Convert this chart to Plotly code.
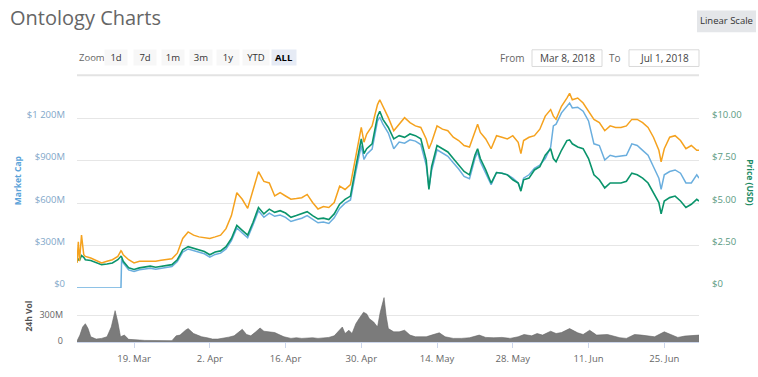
import plotly.graph_objects as go

# ---------------- data ----------------
price_dates = [
    "2018-03-08 11:00", "2018-03-08 17:00", "2018-03-08 22:00", "2018-03-09 07:00", "2018-03-09 17:00",
    "2018-03-10", "2018-03-11", "2018-03-12", "2018-03-13", "2018-03-14", "2018-03-15", "2018-03-16",
    "2018-03-16 14:00", "2018-03-16 17:00", "2018-03-17", "2018-03-18", "2018-03-19", "2018-03-20",
    "2018-03-21", "2018-03-22", "2018-03-23", "2018-03-24", "2018-03-25", "2018-03-26", "2018-03-27",
    "2018-03-28", "2018-03-29", "2018-03-30", "2018-03-31", "2018-04-01", "2018-04-02", "2018-04-03",
    "2018-04-04", "2018-04-05", "2018-04-06", "2018-04-07", "2018-04-08", "2018-04-09", "2018-04-10",
    "2018-04-11", "2018-04-12", "2018-04-13", "2018-04-14", "2018-04-15", "2018-04-16", "2018-04-17",
    "2018-04-18", "2018-04-19", "2018-04-20", "2018-04-21", "2018-04-22", "2018-04-23", "2018-04-24",
    "2018-04-25", "2018-04-26", "2018-04-27", "2018-04-28", "2018-04-29", "2018-04-30", "2018-04-30 12:00",
    "2018-05-01", "2018-05-02", "2018-05-03", "2018-05-03 10:00", "2018-05-04", "2018-05-05", "2018-05-06",
    "2018-05-07", "2018-05-08", "2018-05-09", "2018-05-10", "2018-05-11", "2018-05-12", "2018-05-12 12:00",
    "2018-05-13", "2018-05-14", "2018-05-15", "2018-05-16", "2018-05-17", "2018-05-18", "2018-05-19",
    "2018-05-20", "2018-05-21", "2018-05-21 12:00", "2018-05-22", "2018-05-23", "2018-05-24", "2018-05-25",
    "2018-05-26", "2018-05-27", "2018-05-28", "2018-05-29", "2018-05-29 12:00", "2018-05-30", "2018-05-31",
    "2018-06-01", "2018-06-02", "2018-06-03", "2018-06-04", "2018-06-04 12:00", "2018-06-05", "2018-06-06",
    "2018-06-07", "2018-06-07 12:00", "2018-06-08", "2018-06-09", "2018-06-10", "2018-06-11", "2018-06-12",
    "2018-06-13", "2018-06-14", "2018-06-15", "2018-06-16", "2018-06-17", "2018-06-18", "2018-06-19",
    "2018-06-20", "2018-06-21", "2018-06-22", "2018-06-23", "2018-06-24", "2018-06-24 10:00", "2018-06-25",
    "2018-06-26", "2018-06-27", "2018-06-28", "2018-06-29", "2018-06-30", "2018-07-01", "2018-07-01 10:00",
]

# Market cap, millions of USD
market_cap_m = [
    0, 0, 0, 0, 0, 0, 0, 0, 0, 0, 0, 0, 0, 208, 178, 129, 118, 129, 134, 141, 134, 141, 146, 152, 187,
    254, 277, 266, 254, 243, 219, 238, 247, 277, 335, 425, 390, 356, 448, 547, 501, 531, 508, 517, 501,
    471, 483, 494, 513, 485, 462, 467, 457, 497, 564, 601, 624, 825, 1009, 910, 947, 984, 1183, 1210,
    1160, 1097, 986, 1033, 1026, 1049, 1040, 1016, 871, 709, 832, 979, 956, 933, 887, 843, 790, 774,
    917, 963, 894, 818, 732, 818, 813, 802, 778, 744, 698, 778, 802, 848, 871, 917, 998, 1148, 1160,
    1240, 1287, 1310, 1275, 1280, 1252, 1183, 1021, 1009, 906, 940, 929, 933, 940, 1021, 1009, 975,
    940, 859, 778, 698, 802, 825, 836, 813, 744, 744, 802, 778,
]

# Price in USD
price_usd = [
    1.58, 1.73, 1.62, 1.92, 1.81, 1.67, 1.62, 1.48, 1.38, 1.42, 1.48, 1.67, 1.87, 1.83, 1.58, 1.19,
    1.10, 1.19, 1.23, 1.29, 1.23, 1.29, 1.33, 1.38, 1.67, 2.25, 2.44, 2.35, 2.25, 2.15, 1.96, 2.12,
    2.19, 2.44, 2.92, 3.69, 3.40, 3.12, 3.88, 4.75, 4.37, 4.65, 4.46, 4.56, 4.42, 4.17, 4.27, 4.37,
    4.50, 4.27, 4.08, 4.12, 4.04, 4.37, 4.94, 5.23, 5.42, 7.15, 8.79, 7.92, 8.21, 8.50, 10.13, 10.42,
    9.94, 9.46, 8.79, 8.98, 8.88, 9.08, 8.98, 8.79, 7.54, 5.81, 7.15, 8.40, 8.21, 8.02, 7.63, 7.25,
    6.87, 6.67, 7.83, 8.21, 7.63, 6.96, 6.19, 6.81, 6.77, 6.67, 6.38, 6.19, 5.71, 6.38, 6.48, 6.96,
    7.15, 7.83, 8.21, 7.63, 7.44, 8.12, 8.69, 8.73, 8.50, 8.31, 8.21, 7.63, 6.67, 6.38, 5.90, 6.19,
    6.19, 6.19, 6.29, 6.77, 6.67, 6.48, 6.19, 5.62, 5.04, 4.37, 5.13, 5.33, 5.42, 5.13, 4.75, 4.94,
    5.23, 5.13,
]

# Price in BTC (hidden axis)
price_btc = [
    0.000146, 0.000270, 0.000156, 0.000308, 0.000194, 0.000184, 0.000175, 0.000160, 0.000146, 0.000156,
    0.000165, 0.000184, 0.000217, 0.000213, 0.000194, 0.000165, 0.000146, 0.000156, 0.000156, 0.000160,
    0.000156, 0.000162, 0.000165, 0.000171, 0.000203, 0.000289, 0.000327, 0.000308, 0.000298, 0.000293,
    0.000289, 0.000298, 0.000308, 0.000346, 0.000422, 0.000555, 0.000517, 0.000464, 0.000574, 0.000678,
    0.000621, 0.000612, 0.000536, 0.000555, 0.000536, 0.000517, 0.000521, 0.000526, 0.000545, 0.000498,
    0.000460, 0.000475, 0.000469, 0.000498, 0.000593, 0.000574, 0.000602, 0.000773, 0.000935, 0.000849,
    0.000897, 0.000944, 0.001068, 0.001096, 0.001058, 0.000992, 0.000916, 0.000954, 0.000992, 0.000963,
    0.000944, 0.000935, 0.000868, 0.000811, 0.000849, 0.000944, 0.000925, 0.000916, 0.000878, 0.000859,
    0.000830, 0.000821, 0.000916, 0.000954, 0.000906, 0.000868, 0.000811, 0.000887, 0.000878, 0.000868,
    0.000887, 0.000849, 0.000783, 0.000859, 0.000878, 0.000887, 0.000925, 0.001001, 0.001039, 0.001001,
    0.000982, 0.001058, 0.001106, 0.001134, 0.001096, 0.001106, 0.001077, 0.001030, 0.000982, 0.000963,
    0.000916, 0.000944, 0.000935, 0.000935, 0.000944, 0.000982, 0.000982, 0.000963, 0.000935, 0.000878,
    0.000802, 0.000735, 0.000811, 0.000878, 0.000887, 0.000859, 0.000811, 0.000830, 0.000802, 0.000802,
]

volume_dates = [
    "2018-03-08 11:00", "2018-03-09", "2018-03-09 12:00", "2018-03-10", "2018-03-10 12:00", "2018-03-11",
    "2018-03-12", "2018-03-13", "2018-03-14", "2018-03-14 19:00", "2018-03-15 12:00", "2018-03-16",
    "2018-03-16 12:00", "2018-03-17 05:00", "2018-03-18", "2018-03-19", "2018-03-20", "2018-03-21",
    "2018-03-22", "2018-03-23", "2018-03-24", "2018-03-25", "2018-03-26", "2018-03-26 19:00",
    "2018-03-27 12:00", "2018-03-28 12:00", "2018-03-29", "2018-03-30", "2018-03-30 14:00",
    "2018-03-31 12:00", "2018-04-01 12:00", "2018-04-02 12:00", "2018-04-03 12:00", "2018-04-04 12:00",
    "2018-04-05 12:00", "2018-04-06 12:00", "2018-04-07 07:00", "2018-04-08", "2018-04-08 19:00",
    "2018-04-09 14:00", "2018-04-10 12:00", "2018-04-11 07:00", "2018-04-12", "2018-04-13", "2018-04-14",
    "2018-04-15", "2018-04-15 17:00", "2018-04-17", "2018-04-18", "2018-04-19", "2018-04-20", "2018-04-21",
    "2018-04-22", "2018-04-23", "2018-04-24", "2018-04-25", "2018-04-26", "2018-04-26 12:00", "2018-04-27",
    "2018-04-27 17:00", "2018-04-28 07:00", "2018-04-29", "2018-04-29 14:00", "2018-04-30 10:00",
    "2018-05-01", "2018-05-01 12:00", "2018-05-02 07:00", "2018-05-03", "2018-05-03 12:00",
    "2018-05-04 05:00", "2018-05-04 14:00", "2018-05-05", "2018-05-06", "2018-05-07", "2018-05-08",
    "2018-05-09", "2018-05-10", "2018-05-11", "2018-05-12", "2018-05-13", "2018-05-14 10:00",
    "2018-05-15 12:00", "2018-05-17", "2018-05-18 12:00", "2018-05-20", "2018-05-21 19:00", "2018-05-23",
    "2018-05-24 12:00", "2018-05-26", "2018-05-27 12:00", "2018-05-29", "2018-05-30 02:00",
    "2018-05-31 12:00", "2018-06-01 12:00", "2018-06-02 12:00", "2018-06-04", "2018-06-05", "2018-06-06",
    "2018-06-07 12:00", "2018-06-09", "2018-06-10", "2018-06-11 05:00", "2018-06-12 12:00",
    "2018-06-14 12:00", "2018-06-16 19:00", "2018-06-18", "2018-06-19 12:00", "2018-06-20 19:00",
    "2018-06-22", "2018-06-23 05:00", "2018-06-25", "2018-06-26 07:00", "2018-06-27 12:00",
    "2018-06-28 19:00", "2018-06-30", "2018-07-01", "2018-07-01 10:00",
]

# 24h volume, millions of USD
volume_m = [
    11, 78, 170, 207, 152, 59, 33, 41, 59, 170, 355, 226, 59, 78, 30, 22, 22, 18, 18, 11, 11, 11, 15,
    70, 78, 133, 152, 96, 78, 59, 48, 33, 33, 41, 55, 70, 115, 144, 85, 70, 115, 159, 122, 115, 107,
    78, 59, 41, 48, 41, 44, 48, 41, 48, 52, 70, 133, 170, 96, 133, 96, 207, 263, 337, 318, 263, 226,
    170, 337, 503, 300, 152, 115, 115, 133, 78, 59, 59, 59, 78, 104, 59, 41, 41, 48, 78, 52, 48, 52,
    41, 59, 85, 70, 96, 78, 122, 96, 107, 152, 104, 85, 133, 78, 85, 48, 41, 85, 78, 67, 59, 115, 78,
    52, 67, 70, 78, 78,
]

x_tick_dates = ["2018-03-19", "2018-04-02", "2018-04-16", "2018-04-30",
                "2018-05-14", "2018-05-28", "2018-06-11", "2018-06-25"]
x_tick_labels = ["19. Mar", "2. Apr", "16. Apr", "30. Apr", "14. May", "28. May", "11. Jun", "25. Jun"]

mcap_ticks = [0, 300, 600, 900, 1200]
mcap_labels = ["$0", "$300M", "$600M", "$900M", "$1 200M"]
price_ticks = [0, 2.5, 5, 7.5, 10]
price_labels = ["$0", "$2.50", "$5.00", "$7.50", "$10.00"]
vol_ticks = [0, 300, 600]
vol_labels = ["0", "300M", ""]

zoom_buttons = ["1d", "7d", "1m", "3m", "1y", "YTD", "ALL"]

# ---------------- layout helpers (pixel -> paper) ----------------
W, H = 758, 377
L, R, T, B = 77, 699, 90, 347


def px(x):
    return (x - L) / (R - L)


def py(y):
    return (B - y) / (B - T)


FONT = "Open Sans, Liberation Sans, Arial, sans-serif"
BLUE = "#6aaede"
GREEN = "#0a946b"
ORANGE = "#f5a21e"
GRID = "#e6e6e6"

fig = go.Figure()
fig.add_trace(go.Scatter(x=price_dates, y=market_cap_m, mode="lines", xaxis="x", yaxis="y",
                         line=dict(color=BLUE, width=1.5), hoverinfo="skip"))
fig.add_trace(go.Scatter(x=price_dates, y=price_usd, mode="lines", xaxis="x", yaxis="y2",
                         line=dict(color=GREEN, width=1.6), hoverinfo="skip"))
fig.add_trace(go.Scatter(x=price_dates, y=price_btc, mode="lines", xaxis="x", yaxis="y3",
                         line=dict(color=ORANGE, width=1.5), hoverinfo="skip"))
fig.add_trace(go.Scatter(x=volume_dates, y=volume_m, mode="lines", xaxis="x2", yaxis="y4",
                         fill="tozeroy", fillcolor="#7b7b7b",
                         line=dict(color="#666666", width=0.6), hoverinfo="skip"))

x_range = ["2018-03-08 11:00", "2018-07-01 10:00"]
main_bottom = py(292)
vol_top = py(293)

fig.update_layout(
    width=W, height=H,
    margin=dict(l=L, r=W - R, t=T, b=H - B, pad=0),
    paper_bgcolor="white", plot_bgcolor="white",
    showlegend=False,
    font=dict(family=FONT, size=10, color="#666666"),
    xaxis=dict(domain=[0, 1], anchor="y", range=x_range, showticklabels=False,
               showgrid=False, zeroline=False, showline=False, ticks=""),
    xaxis2=dict(domain=[0, 1], anchor="y4", matches="x", range=x_range,
                tickmode="array", tickvals=x_tick_dates, ticktext=x_tick_labels,
                showgrid=False, zeroline=False, showline=True, linecolor="#ccd6eb", linewidth=1,
                ticks="outside", ticklen=5, tickcolor="#ccd6eb", ticklabelstandoff=3,
                tickfont=dict(size=9.5, color="#666666")),
    yaxis=dict(domain=[main_bottom, 1], anchor="x", range=[0, 1402],
               tickmode="array", tickvals=mcap_ticks, ticktext=mcap_labels,
               showgrid=True, gridcolor=GRID, gridwidth=1, zeroline=False, showline=False,
               ticks="", ticklabelstandoff=11, ticklabelshift=-4,
               tickfont=dict(size=9.5, color="#7fa7c9")),
    yaxis2=dict(anchor="x", overlaying="y", side="right", range=[0, 11.67],
                tickmode="array", tickvals=price_ticks, ticktext=price_labels,
                showgrid=False, zeroline=False, showline=False,
                ticks="", ticklabelstandoff=12, ticklabelshift=-4,
                tickfont=dict(size=9.5, color="#5a9a82")),
    yaxis3=dict(anchor="x", overlaying="y", range=[0, 0.001153], visible=False),
    yaxis4=dict(domain=[0, vol_top], anchor="x2", range=[0, 600],
                tickmode="array", tickvals=vol_ticks, ticktext=vol_labels,
                showgrid=True, gridcolor=GRID, gridwidth=1, zeroline=False, showline=False,
                ticks="", ticklabelstandoff=13, ticklabelshift=-1,
                tickfont=dict(size=9, color="#666666")),
)

ann = []
# title
ann.append(dict(x=px(8), y=py(16), xref="paper", yref="paper", xanchor="left", yanchor="middle",
                text="Ontology Charts", showarrow=False,
                font=dict(size=20, color="#666666", family=FONT)))
# zoom label
ann.append(dict(x=px(77), y=py(57), xref="paper", yref="paper", xanchor="left", yanchor="middle",
                text="Zoom", showarrow=False, font=dict(size=9.5, color="#666666")))
btn_centers = [116, 145, 173, 201, 228, 256, 284]
btn_widths = [20, 20, 20, 20, 20, 24, 22]
for lab, cx, bw in zip(zoom_buttons, btn_centers, btn_widths):
    sel = lab == "ALL"
    ann.append(dict(x=px(cx), y=py(57), xref="paper", yref="paper", xanchor="center", yanchor="middle",
                    text=f"<b>{lab}</b>" if sel else lab, showarrow=False,
                    width=bw, height=13, borderpad=1,
                    bgcolor="#e6ebf5" if sel else "#f7f7f7",
                    font=dict(size=9.5, color="#000000" if sel else "#333333")))
# From / To
ann.append(dict(x=px(527), y=py(57), xref="paper", yref="paper", xanchor="right", yanchor="middle",
                text="From", showarrow=False, font=dict(size=10, color="#666666")))
ann.append(dict(x=px(567), y=py(57), xref="paper", yref="paper", xanchor="center", yanchor="middle",
                text="Mar 8, 2018", showarrow=False, font=dict(size=10, color="#444444")))
ann.append(dict(x=px(623), y=py(57), xref="paper", yref="paper", xanchor="right", yanchor="middle",
                text="To", showarrow=False, font=dict(size=10, color="#666666")))
ann.append(dict(x=px(664), y=py(57), xref="paper", yref="paper", xanchor="center", yanchor="middle",
                text="Jul 1, 2018", showarrow=False, font=dict(size=10, color="#444444")))
# Linear scale button
ann.append(dict(x=px(726.5), y=py(19), xref="paper", yref="paper", xanchor="center", yanchor="middle",
                text="Linear Scale", showarrow=False, font=dict(size=9.5, color="#333333")))
# axis titles
ann.append(dict(x=px(17), y=py(183), xref="paper", yref="paper", xanchor="center", yanchor="middle",
                text="<b>Market Cap</b>", textangle=-90, showarrow=False,
                font=dict(size=8.5, color="#5ba3d9")))
ann.append(dict(x=px(751), y=py(184), xref="paper", yref="paper", xanchor="center", yanchor="middle",
                text="<b>Price (USD)</b>", textangle=90, showarrow=False,
                font=dict(size=8.5, color="#1b8a63")))
ann.append(dict(x=px(29), y=py(320), xref="paper", yref="paper", xanchor="center", yanchor="middle",
                text="<b>24h Vol</b>", textangle=-90, showarrow=False,
                font=dict(size=8.5, color="#555555")))

shapes = [
    # separator under the controls
    dict(type="line", xref="paper", yref="paper", x0=px(77), x1=px(699), y0=py(75), y1=py(75),
         line=dict(color="#e3e3e3", width=2), layer="below"),
    # date input boxes
    dict(type="rect", xref="paper", yref="paper", x0=px(532), x1=px(602), y0=py(49), y1=py(66),
         line=dict(color="#d9d9d9", width=1), fillcolor="white", layer="below"),
    dict(type="rect", xref="paper", yref="paper", x0=px(629), x1=px(699), y0=py(49), y1=py(66),
         line=dict(color="#d9d9d9", width=1), fillcolor="white", layer="below"),
    # linear scale button background
    dict(type="rect", xref="paper", yref="paper", x0=px(697), x1=px(756), y0=py(9), y1=py(31),
         line=dict(width=0), fillcolor="#e4e6e9", layer="below"),
]

fig.update_layout(annotations=ann, shapes=shapes)

fig.write_html("out.html", config={"displayModeBar": False},
               post_script="document.body.style.margin='0';document.body.style.overflow='hidden';")
